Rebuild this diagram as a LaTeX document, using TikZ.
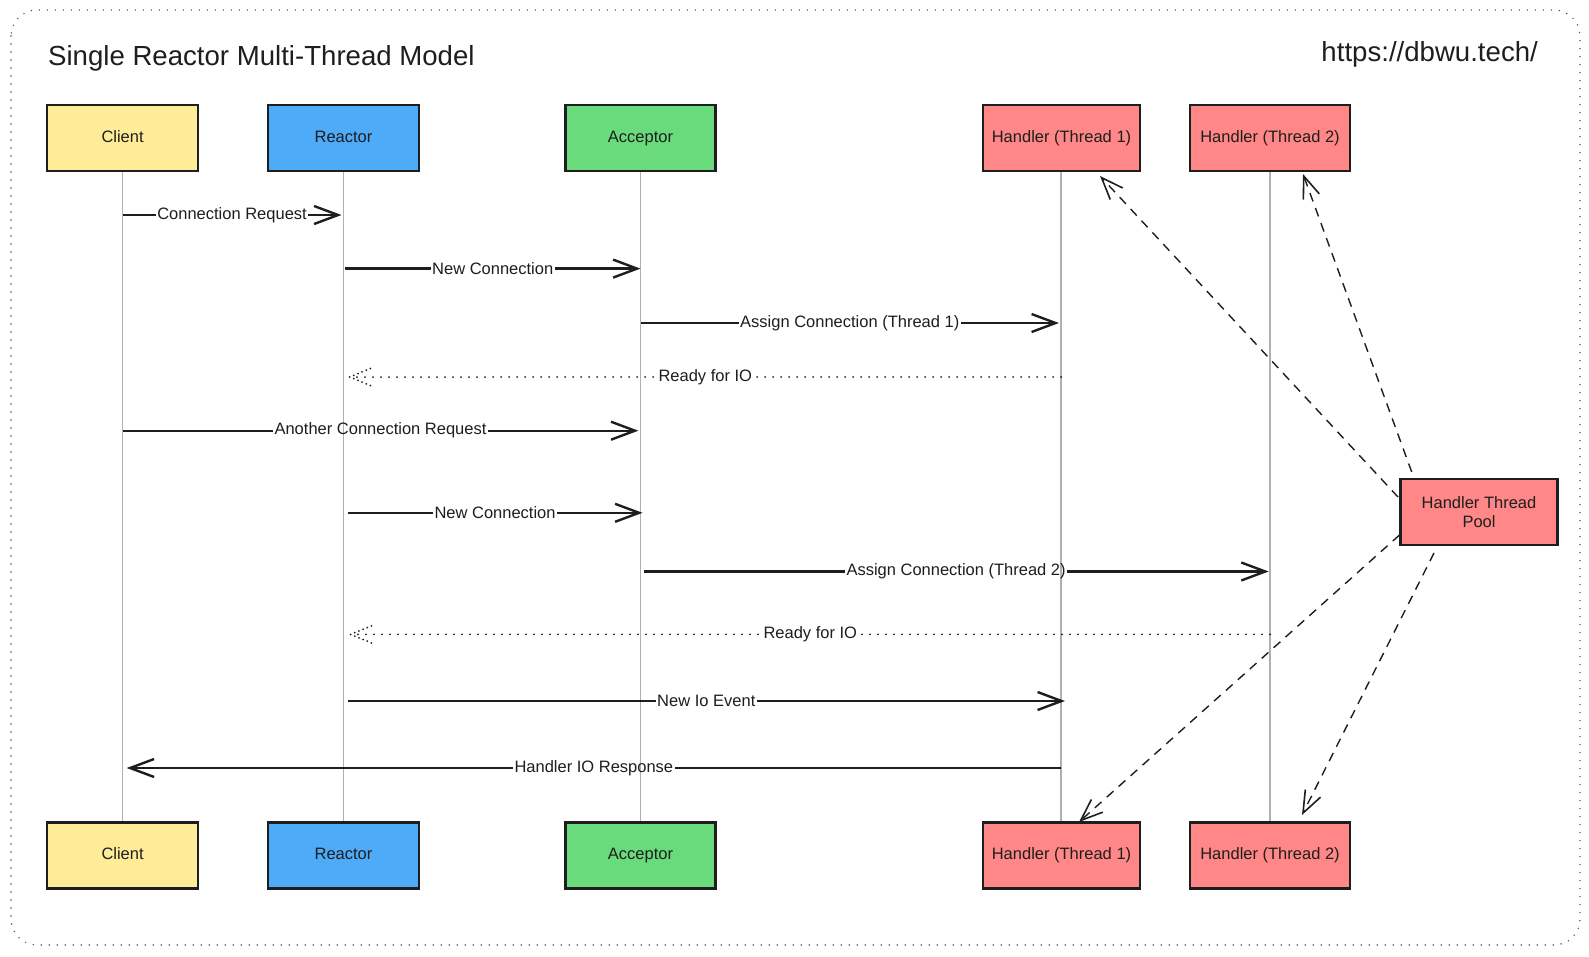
\documentclass[tikz,border=0pt]{standalone}
\usepackage{fontspec}
\setmainfont{Liberation Sans}
\usetikzlibrary{arrows.meta}
\definecolor{ink}{HTML}{1E1E1E}
\definecolor{cyel}{HTML}{FFEC99}
\definecolor{cblu}{HTML}{4DABF7}
\definecolor{cgrn}{HTML}{69DB7C}
\definecolor{cred}{HTML}{FF8787}
\definecolor{life}{HTML}{B0B0B0}
\definecolor{frame}{HTML}{555555}
\begin{document}
\begin{tikzpicture}[x=1pt,y=-1pt,
  actor/.style={draw=ink, line width=2.3pt, minimum height=66pt, inner sep=0pt,
    font=\fontsize{16.5}{19.5}\selectfont, text=ink, align=center,
    text height=12pt, text depth=3.5pt},
  lifeline/.style={draw=life, line width=1.1pt},
  msg/.style={draw=ink, line width=2.4pt, -{Straight Barb[length=24pt,width=18pt]}},
  ret/.style={draw=ink, line width=2pt, line cap=round, dash pattern=on 0pt off 8pt},
  rethead/.style={draw=ink, line width=2pt, line cap=round, dash pattern=on 0pt off 4.5pt},
  poolarrow/.style={draw=ink, line width=1.4pt, dash pattern=on 9pt off 7pt,
    -{Straight Barb[length=22pt,width=17pt,line width=1.6pt]}},
  lbl/.style={fill=white, inner sep=1.5pt, text=ink, font=\fontsize{16.5}{19}\selectfont},
  titletext/.style={text=ink, inner sep=0pt, font=\fontsize{27.6}{32}\selectfont}
]
\useasboundingbox (0,0) rectangle (1589,956);
% frame
\draw[frame, line width=1.6pt, line cap=round, dash pattern=on 0pt off 8pt, rounded corners=26pt]
  (11,10) rectangle (1580,945);
% titles
\node[titletext, anchor=base west] (title) at (48,65.5) {Single Reactor Multi-Thread Model};
\node[titletext, anchor=base east] (url) at (1538,61.7) {https://dbwu.tech/};

% actors top
\node[actor, fill=cyel, minimum width=151pt] (cl_t) at (122.6,138) {Client};
\node[actor, fill=cblu, minimum width=151pt] (re_t) at (343.5,138) {Reactor};
\node[actor, fill=cgrn, minimum width=150pt] (ac_t) at (640.5,138) {Acceptor};
\node[actor, fill=cred, minimum width=157pt] (h1_t) at (1061.5,138) {Handler (Thread 1)};
\node[actor, fill=cred, minimum width=160pt] (h2_t) at (1270,138) {Handler (Thread 2)};
% actors bottom
\node[actor, fill=cyel, minimum width=151pt] (cl_b) at (122.6,855.5) {Client};
\node[actor, fill=cblu, minimum width=151pt] (re_b) at (343.5,855.5) {Reactor};
\node[actor, fill=cgrn, minimum width=150pt] (ac_b) at (640.5,855.5) {Acceptor};
\node[actor, fill=cred, minimum width=157pt] (h1_b) at (1061.5,855.5) {Handler (Thread 1)};
\node[actor, fill=cred, minimum width=160pt] (h2_b) at (1270,855.5) {Handler (Thread 2)};
% pool
\node[actor, fill=cred, minimum width=157pt, text height=, text depth=] (pool) at (1479,512) {Handler Thread\\Pool};

% message end points
\coordinate (m1a) at (122.6,215);   \coordinate (m1b) at (341.5,215);
\coordinate (m2a) at (345,268.6);   \coordinate (m2b) at (640.5,268.6);
\coordinate (m3a) at (640.5,323);   \coordinate (m3b) at (1059,323);
\coordinate (m4a) at (1061,377);    \coordinate (m4b) at (349.6,377);
\coordinate (m5a) at (122.6,430.7); \coordinate (m5b) at (638.4,430.7);
\coordinate (m6a) at (347.6,512.8); \coordinate (m6b) at (642.5,512.8);
\coordinate (m7a) at (643.5,571.5); \coordinate (m7b) at (1268.7,571.5);
\coordinate (m8a) at (1270,634.4);  \coordinate (m8b) at (350.6,634.4);
\coordinate (m9a) at (347.6,701);   \coordinate (m9b) at (1065,701);
\coordinate (m10a) at (1061,768);   \coordinate (m10b) at (126.7,768);

% messages
\draw[msg] (m1a) -- node[lbl]{Connection Request} (m1b);
\draw[msg] (m2a) -- node[lbl]{New Connection} (m2b);
\draw[msg] (m3a) -- node[lbl]{Assign Connection (Thread 1)} (m3b);
\draw[ret] (m4a) -- node[lbl]{Ready for IO} (m4b);
\draw[rethead] (m4b) -- ++(22,-9) (m4b) -- ++(22,9);
\draw[msg] (m5a) -- node[lbl]{Another Connection Request} (m5b);
\draw[msg] (m6a) -- node[lbl]{New Connection} (m6b);
\draw[msg] (m7a) -- node[lbl]{Assign Connection (Thread 2)} (m7b);
\draw[ret] (m8a) -- node[lbl]{Ready for IO} (m8b);
\draw[rethead] (m8b) -- ++(22,-9) (m8b) -- ++(22,9);
\draw[msg] (m9a) -- node[lbl]{New Io Event} (m9b);
\draw[msg] (m10a) -- node[lbl]{Handler IO Response} (m10b);

% lifelines (multiply so text and lines stay dark)
\begin{scope}[blend mode=multiply]
\draw[lifeline] (cl_t.south) -- (cl_b.north);
\draw[lifeline] (re_t.south) -- (re_b.north);
\draw[lifeline] (ac_t.south) -- (ac_b.north);
\draw[lifeline] (h1_t.south -| 1061,0) -- (h1_b.north -| 1061,0);
\draw[lifeline] (h2_t.south) -- (h2_b.north);
\end{scope}

% pool arrows
\coordinate (p1s) at (1398,497);  \coordinate (p1e) at (1100,176);
\coordinate (p2s) at (1411.7,472); \coordinate (p2e) at (1303,174);
\coordinate (p3s) at (1399.5,535); \coordinate (p3e) at (1079,822);
\coordinate (p4s) at (1434,553);  \coordinate (p4e) at (1302,815);
\draw[poolarrow] (p1s) -- (p1e);
\draw[poolarrow] (p2s) -- (p2e);
\draw[poolarrow] (p3s) -- (p3e);
\draw[poolarrow] (p4s) -- (p4e);
\end{tikzpicture}
\end{document}
